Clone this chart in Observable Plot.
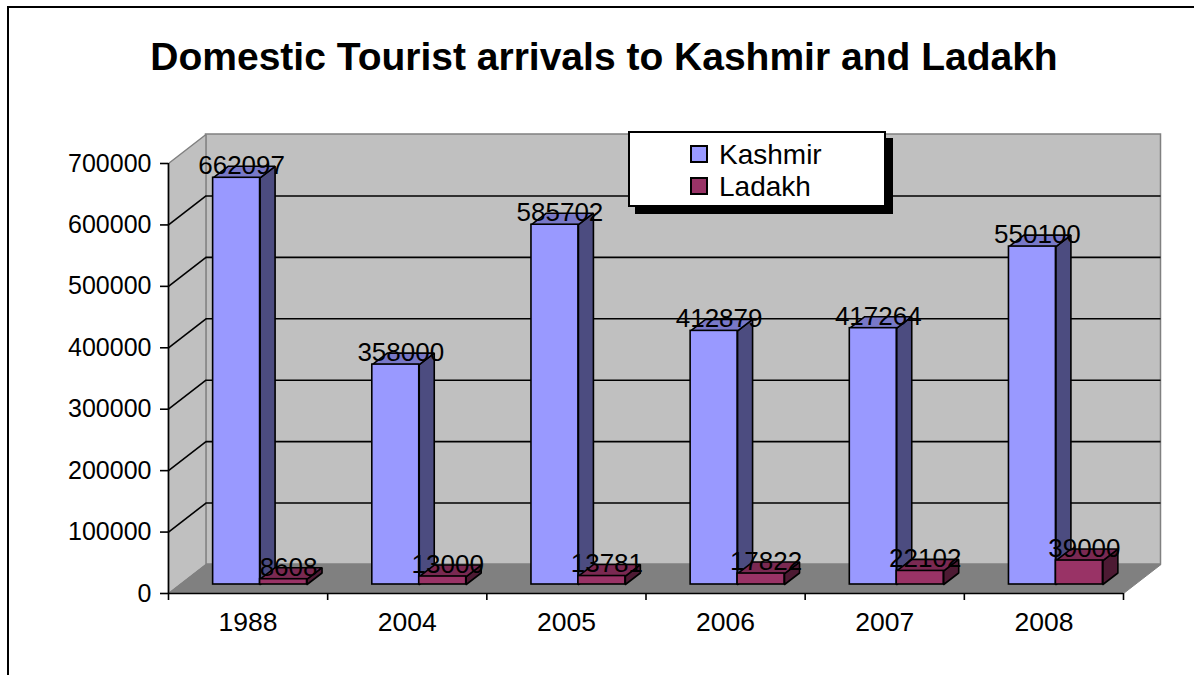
<!DOCTYPE html>
<html>
<head>
<meta charset="utf-8">
<script src="https://cdn.jsdelivr.net/npm/d3@7"></script>
<script src="https://cdn.jsdelivr.net/npm/@observablehq/plot@0.6"></script>
<style>
  html, body { margin: 0; padding: 0; background: #fff; }
  #wrap { position: relative; width: 1194px; height: 675px; overflow: hidden; font-family: "Liberation Sans", Arial, sans-serif; }
  #frame { position: absolute; left: 7px; top: 6px; width: 1300px; height: 800px; border: 2px solid #000; box-sizing: border-box; }
  #title { position: absolute; left: 0; top: 34px; width: 1208px; text-align: center; font-weight: bold; font-size: 39px; line-height: 45px; color: #000; }
  #chart { position: absolute; left: 0; top: 100px; }
  #legend { position: absolute; left: 628px; top: 131px; width: 258px; height: 76px; box-sizing: border-box; border: 2px solid #000; background: #fff; box-shadow: 7px 7px 0 #000; }
  .item { position: absolute; left: 60px; font-size: 28px; line-height: 31px; color: #000; white-space: nowrap; }
  .sw { display: inline-block; width: 14px; height: 14px; border: 2px solid #000; margin-right: 11px; vertical-align: 1px; }
</style>
</head>
<body>
<div id="wrap">
  <div id="frame"></div>
  <div id="title">Domestic Tourist arrivals to Kashmir and Ladakh</div>
  <div id="chart"></div>
  <div id="legend"></div>
</div>
<script>
// ---- data ----
const years = ["1988", "2004", "2005", "2006", "2007", "2008"];
const kashmir = [662097, 358000, 585702, 412879, 417264, 550100];
const ladakh = [8608, 13000, 13781, 17822, 22102, 39000];
const seriesNames = ["Kashmir", "Ladakh"];
const yTicks = [0, 100000, 200000, 300000, 400000, 500000, 600000, 700000];

// ---- styling / geometry ----
const frontColors = ["#9999FF", "#993366"];
const topColors = ["#7878C8", "#7A2952"];
const sideColors = ["#4C4C80", "#4D1A33"];
const W = 1194, H = 575;
const mL = 168, mR = 71, mT = 63, mB = 82;
const yMax = 700000;
const pxPerX = (W - mL - mR) / years.length;
const pxPerY = (H - mT - mB) / yMax;
const ux = px => px / pxPerX;     // pixel -> x data units
const uy = py => -py / pxPerY;    // pixel (down positive) -> y data units
const WALL = [37.5, -29];   // depth of the walls in pixels
const FRONT = [12, -9];     // depth offset of bar front faces
const BD = [15, -11.5];     // bar depth
const gap = 0.205, bw = 0.295;

function poly(id, fill, pts) {
  const rows = pts.map(([x, y]) => ({id, fill, x, y}));
  rows.push({...rows[0]});
  return rows;
}

// walls
const wx = ux(WALL[0]), wy = uy(WALL[1]);
const floorPoly = poly("floor", "#808080", [[0, 0], [years.length, 0], [years.length + wx, wy], [wx, wy]]);
const leftWall = poly("lw", "#C0C0C0", [[0, 0], [0, yMax], [wx, yMax + wy], [wx, wy]]);
const backWall = [{x1: 0, x2: years.length, y1: 0, y2: yMax}];
const gridVals = yTicks.filter(v => v > 0 && v < yMax);

// bars
const fx = ux(FRONT[0]), fy = uy(FRONT[1]);
const bx = ux(BD[0]), by = uy(BD[1]);
const bars = [];
years.forEach((yr, i) => {
  [kashmir[i], ladakh[i]].forEach((v, s) => {
    const x1 = i + gap + s * bw, x2 = x1 + bw;
    bars.push({s, i, x1, x2, v, id: yr + s});
  });
});
function faces(s) {
  const side = [], top = [];
  bars.filter(b => b.s === s).forEach(b => {
    side.push(...poly("side" + b.id, sideColors[s], [
      [b.x2 + fx, fy], [b.x2 + fx + bx, fy + by], [b.x2 + fx + bx, b.v + fy + by], [b.x2 + fx, b.v + fy]]));
    top.push(...poly("top" + b.id, topColors[s], [
      [b.x1 + fx, b.v + fy], [b.x2 + fx, b.v + fy], [b.x2 + fx + bx, b.v + fy + by], [b.x1 + fx + bx, b.v + fy + by]]));
  });
  return {side, top, front: bars.filter(b => b.s === s)};
}
const polyOpts = {x: "x", y: "y", z: "id", fill: "fill", stroke: "#000", strokeWidth: 1.6, strokeLinejoin: "miter", curve: "linear"};

const barMarks = [];
[0, 1].forEach(s => {
  const f = faces(s);
  barMarks.push(Plot.line(f.side, polyOpts));
  barMarks.push(Plot.line(f.top, polyOpts));
  barMarks.push(Plot.rect(f.front, {x1: "x1", x2: "x2", y1: () => 0, y2: "v", dx: FRONT[0], dy: FRONT[1], fill: frontColors[s], stroke: "#000", strokeWidth: 1.6}));
});

const labels = bars.map(b => ({x: (b.x1 + b.x2) / 2, y: b.v, t: String(b.v)}));

const chart = Plot.plot({
  width: W, height: H,
  marginLeft: mL, marginRight: mR, marginTop: mT, marginBottom: mB,
  x: {domain: [0, years.length], label: null},
  y: {domain: [0, yMax], label: null},
  color: {type: "identity"},
  style: {fontFamily: "'Liberation Sans', Arial, sans-serif", fontSize: "25px", color: "#000", background: "transparent", overflow: "visible"},
  marks: [
    Plot.rect(backWall, {x1: "x1", x2: "x2", y1: "y1", y2: "y2", dx: WALL[0], dy: WALL[1], fill: "#C0C0C0", stroke: "#808080", strokeWidth: 1.5}),
    Plot.line(leftWall, {...polyOpts, stroke: "#808080", strokeWidth: 1.5}),
    Plot.line(floorPoly, {...polyOpts, stroke: "#808080", strokeWidth: 1}),
    Plot.link(gridVals, {x1: () => 0, y1: d => d, x2: () => wx, y2: d => d + wy, stroke: "#000", strokeWidth: 1.6}),
    Plot.ruleY(gridVals, {x1: () => 0, x2: () => years.length, y: d => d, dx: WALL[0], dy: WALL[1], stroke: "#000", strokeWidth: 1.6}),
    ...barMarks,
    Plot.text(labels, {x: "x", y: "y", text: "t", dx: 17, dy: -21, fontSize: 26, lineAnchor: "middle", fill: "#000"}),
    Plot.ruleX([0], {stroke: "#000", strokeWidth: 1.6}),
    Plot.ruleY([0], {stroke: "#000", strokeWidth: 1.6}),
    Plot.axisY(yTicks, {tickSize: 8, tickPadding: 9, tickFormat: d => String(d), fontSize: 25, stroke: "#000", strokeWidth: 1.6}),
    Plot.axisX(d3.range(years.length + 1), {tickSize: 7, tickFormat: () => "", stroke: "#000", strokeWidth: 1.6}),
    Plot.axisX(years.map((y, i) => i + 0.5), {tickSize: 0, tickPadding: 19, tickFormat: d => years[Math.floor(d)], fontSize: 26.5})
  ]
});
document.getElementById("chart").appendChild(chart);

// legend
const legend = document.getElementById("legend");
seriesNames.forEach((name, k) => {
  const div = document.createElement("div");
  div.className = "item";
  div.style.top = (6 + k * 32) + "px";
  div.innerHTML = `<span class="sw" style="background:${frontColors[k]}"></span>${name}`;
  legend.appendChild(div);
});
</script>
</body>
</html>
